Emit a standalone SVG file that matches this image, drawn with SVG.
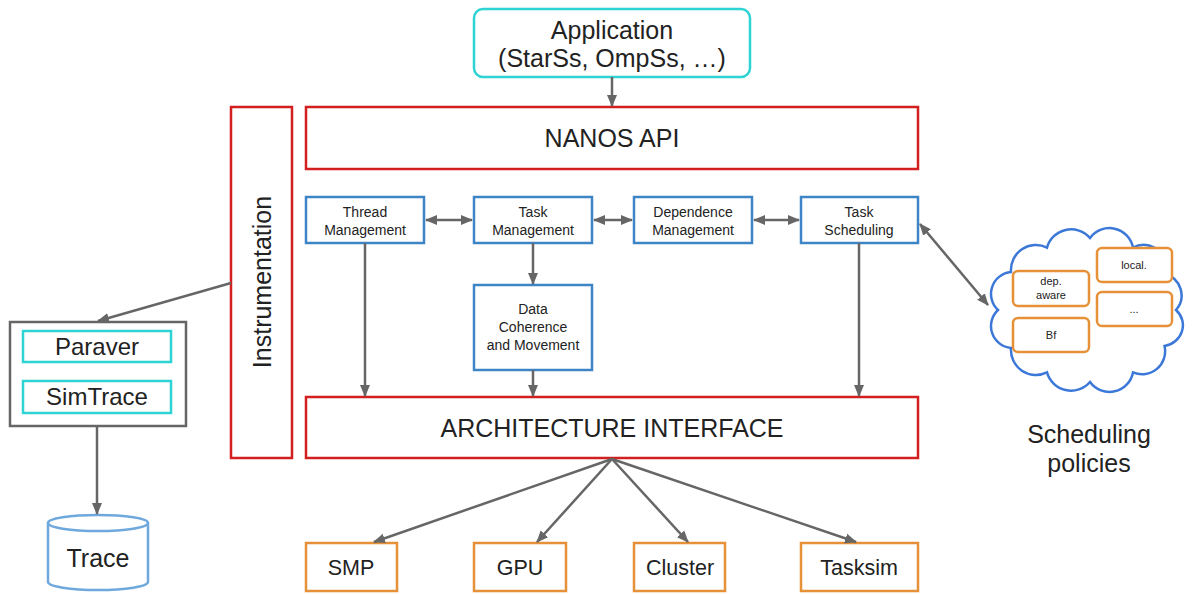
<svg xmlns="http://www.w3.org/2000/svg" width="1196" height="594" viewBox="0 0 1196 594">
<style>
text{font-family:"Liberation Sans",Arial,sans-serif;fill:#222;text-anchor:middle}
.red{fill:#fff;stroke:#d21f1f;stroke-width:2.5}
.blue{fill:#fff;stroke:#3d85c6;stroke-width:2.5}
.org{fill:#fff;stroke:#e69138;stroke-width:2.5}
.cyan{fill:#fff;stroke:#2ed3d3;stroke-width:2.5}
.gray{fill:#fff;stroke:#666;stroke-width:2.5}
.big{font-size:25px}
.tool{font-size:24px}
.mid{font-size:21.5px}
.sm{font-size:14px}
.xs{font-size:11px}
.con line,.con path{stroke:#666;stroke-width:2.5;fill:none}
</style>
<defs>
<marker id="ah" markerUnits="userSpaceOnUse" markerWidth="12" markerHeight="12" viewBox="0 0 12 12" refX="11" refY="6" orient="auto-start-reverse">
<path d="M0,1 L12,6 L0,11 Z" fill="#666"/>
</marker>
</defs>

<g id="application"><rect class="cyan" x="474" y="9" width="276" height="68" rx="9"/><text class="big" x="612" y="39">Application</text><text class="big" x="612" y="67">(StarSs, OmpSs, …)</text></g>
<g id="nanos-api"><rect class="red" x="306" y="107" width="612" height="62"/><text class="big" x="612" y="147">NANOS API</text></g>
<g id="instrumentation"><rect class="red" x="231" y="107" width="61" height="351"/><text class="big" transform="translate(271,282) rotate(-90)">Instrumentation</text></g>
<g id="thread-mgmt"><rect class="blue" x="306" y="197" width="118" height="46"/><text class="sm" x="365" y="217">Thread</text><text class="sm" x="365" y="235">Management</text></g>
<g id="task-mgmt"><rect class="blue" x="474" y="197" width="118" height="46"/><text class="sm" x="533" y="217">Task</text><text class="sm" x="533" y="235">Management</text></g>
<g id="dep-mgmt"><rect class="blue" x="634" y="197" width="118" height="46"/><text class="sm" x="693" y="217">Dependence</text><text class="sm" x="693" y="235">Management</text></g>
<g id="task-sched"><rect class="blue" x="801" y="197" width="117" height="46"/><text class="sm" x="859" y="217">Task</text><text class="sm" x="859" y="235">Scheduling</text></g>
<g id="data-coherence"><rect class="blue" x="474" y="285" width="118" height="85"/><text class="sm" x="533" y="314">Data</text><text class="sm" x="533" y="332">Coherence</text><text class="sm" x="533" y="350">and Movement</text></g>
<g id="arch-interface"><rect class="red" x="306" y="397" width="612" height="61"/><text class="big" x="612" y="437">ARCHITECTURE INTERFACE</text></g>
<g id="smp"><rect class="org" x="306" y="543" width="91" height="48"/><text class="mid" x="351" y="575">SMP</text></g>
<g id="gpu"><rect class="org" x="474" y="543" width="92" height="48"/><text class="mid" x="520" y="575">GPU</text></g>
<g id="cluster"><rect class="org" x="634" y="543" width="91" height="48"/><text class="mid" x="680" y="575">Cluster</text></g>
<g id="tasksim"><rect class="org" x="801" y="543" width="117" height="48"/><text class="mid" x="859" y="575">Tasksim</text></g>
<g id="tools"><rect class="gray" x="10" y="322" width="176" height="104"/></g>
<g id="paraver"><rect class="cyan" x="23" y="331" width="148" height="31"/><text class="tool" x="97" y="355">Paraver</text></g>
<g id="simtrace"><rect class="cyan" x="23" y="381" width="148" height="32"/><text class="tool" x="97" y="405">SimTrace</text></g>
<g id="trace"><path d="M48,523 A50,8 0 0 1 148,523 L148,582 A50,8 0 0 1 48,582 Z" fill="#fff" stroke="#6fa8dc" stroke-width="2.5"/><path d="M48,523 A50,8 0 0 0 148,523" fill="none" stroke="#6fa8dc" stroke-width="2.5"/><text class="big" x="98" y="567">Trace</text></g>
<g id="scheduling-policies">
<path d="M998,310 A22,22 0 0 1 1011,272 A25,25 0 0 1 1047,247.6 A25,25 0 0 1 1090,238 A24,24 0 0 1 1133,247.6 A22,22 0 0 1 1164.5,274 A22,22 0 0 1 1176,310 A22,21 0 0 1 1164.5,346 A23,23 0 0 1 1133,372.4 A24,24 0 0 1 1090,382 A25,25 0 0 1 1047,372.4 A25,25 0 0 1 1011,348 A22,22 0 0 1 998,310 Z" fill="#fff" stroke="#3c78d8" stroke-width="2.5"/>
<rect class="org" x="1013" y="271" width="76" height="35" rx="5"/><text class="xs" x="1051" y="285">dep.</text><text class="xs" x="1051" y="299">aware</text>
<rect class="org" x="1013" y="318" width="76" height="34" rx="5"/><text class="xs" x="1051" y="339">Bf</text>
<rect class="org" x="1097" y="248" width="75" height="34" rx="5"/><text class="xs" x="1134" y="269">local.</text>
<rect class="org" x="1097" y="292" width="75" height="34" rx="5"/><text class="xs" x="1134" y="313" fill="#888">...</text>
<text class="big" x="1089" y="443">Scheduling</text><text class="big" x="1089" y="472">policies</text>
</g>

<g class="con" id="connectors">
<line x1="612" y1="77" x2="612" y2="106" marker-end="url(#ah)"/>
<line x1="426" y1="220" x2="472" y2="220" marker-start="url(#ah)" marker-end="url(#ah)"/>
<line x1="594" y1="220" x2="632" y2="220" marker-start="url(#ah)" marker-end="url(#ah)"/>
<line x1="754" y1="220" x2="799" y2="220" marker-start="url(#ah)" marker-end="url(#ah)"/>
<line x1="365" y1="243" x2="365" y2="396" marker-end="url(#ah)"/>
<line x1="533" y1="243" x2="533" y2="284" marker-end="url(#ah)"/>
<line x1="533" y1="370" x2="533" y2="396" marker-end="url(#ah)"/>
<line x1="859" y1="243" x2="859" y2="396" marker-end="url(#ah)"/>
<line x1="920" y1="224" x2="988" y2="305" marker-start="url(#ah)" marker-end="url(#ah)"/>
<line x1="612" y1="459" x2="374" y2="542" marker-end="url(#ah)"/>
<line x1="612" y1="459" x2="537" y2="542" marker-end="url(#ah)"/>
<line x1="612" y1="459" x2="688" y2="542" marker-end="url(#ah)"/>
<line x1="612" y1="459" x2="856" y2="542" marker-end="url(#ah)"/>
<line x1="231" y1="283" x2="98" y2="321" marker-end="url(#ah)"/>
<line x1="97" y1="426" x2="97" y2="514" marker-end="url(#ah)"/>
</g>
</svg>
